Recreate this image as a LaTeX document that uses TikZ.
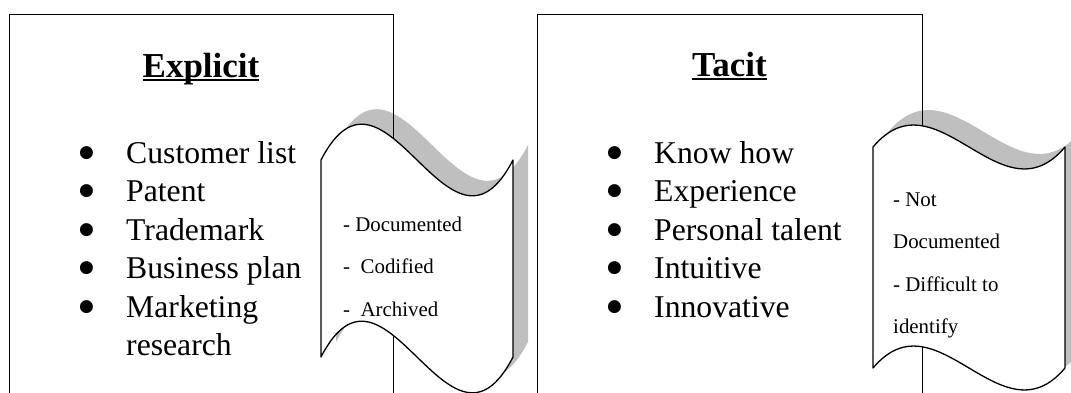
\documentclass[tikz,border=0pt]{standalone}
\usepackage{fontspec}
\setmainfont{Liberation Serif}
\newfontfamily\dotfont{DejaVu Sans}

% underlined heading, rule close under the baseline
\newcommand\ulhead[1]{\setbox0\hbox{#1}\rlap{\rule[-3.5pt]{\wd0}{1.6pt}}\box0}
% bullet cell of the lists
\newcommand\lbul{\makebox[47pt][l]{\raisebox{6pt}{\dotfont\fontsize{17}{17}\selectfont ●}}}
% punched tape outline: left x, top y, bottom y, bend
\newcommand\tapepath[4]{(#1,#2) .. controls ({#1+64},{#2-#4}) and ({#1+128},{#2+#4}) .. ({#1+192},#2) -- ({#1+192},#3) .. controls ({#1+128},{#3+#4}) and ({#1+64},{#3-#4}) .. (#1,#3) -- cycle}

\begin{document}
\begin{tikzpicture}[x=1pt,y=-1pt,
    kbox/.style={draw,line width=1.3pt,anchor=north west,minimum height=400pt,inner sep=0pt},
    head/.style={anchor=base,inner sep=0pt,font=\fontsize{35}{40}\selectfont\bfseries},
    itemlist/.style={anchor=base west,inner sep=0pt,font=\fontsize{31.7}{38.5}\selectfont},
    tape/.style={draw,fill=white,line width=1.3pt,line join=round},
    tapeshadow/.style={fill=black!25,shift={(15,-15)}},
    tapetext/.style={anchor=base west,inner sep=0pt,font=\fontsize{20.9}{42.6}\selectfont}]
    \useasboundingbox (0,0) rectangle (1071,392);
    \clip (0,0) rectangle (1071,392);

    % shadows of the tapes
    \fill[tapeshadow] \tapepath{321}{160}{357}{124};
    \fill[tapeshadow] \tapepath{873}{147}{368}{76};

    % explicit knowledge
    \node[kbox,minimum width=384pt] (explicit) at (9,14) {};
    \node[head] (explicithead) at (201,77) {\ulhead{Explicit}};
    \node[itemlist] (explicitlist) at (79,163) {\begin{tabular}[t]{@{}l@{}l@{}}
      \lbul & Customer list\\
      \lbul & Patent\\
      \lbul & Trademark\\
      \lbul & Business plan\\
      \lbul & Marketing\\
            & research
    \end{tabular}};

    % tacit knowledge
    \node[kbox,minimum width=385pt] (tacit) at (537,14) {};
    \node[head] (tacithead) at (729.5,76) {\ulhead{Tacit}};
    \node[itemlist] (tacitlist) at (607,163) {\begin{tabular}[t]{@{}l@{}l@{}}
      \lbul & Know how\\
      \lbul & Experience\\
      \lbul & Personal talent\\
      \lbul & Intuitive\\
      \lbul & Innovative
    \end{tabular}};

    % tapes
    \draw[tape] \tapepath{321}{160}{357}{124};
    \node[tapetext] (explicitnote) at (343,231) {\begin{tabular}[t]{@{}l@{}}
      - Documented\\
      -\ \ Codified\\
      -\ \ Archived
    \end{tabular}};

    \draw[tape] \tapepath{873}{147}{368}{76};
    \node[tapetext] (tacitnote) at (893,206) {\begin{tabular}[t]{@{}l@{}}
      - Not\\
      Documented\\
      - Difficult to\\
      identify
    \end{tabular}};
\end{tikzpicture}
\end{document}
